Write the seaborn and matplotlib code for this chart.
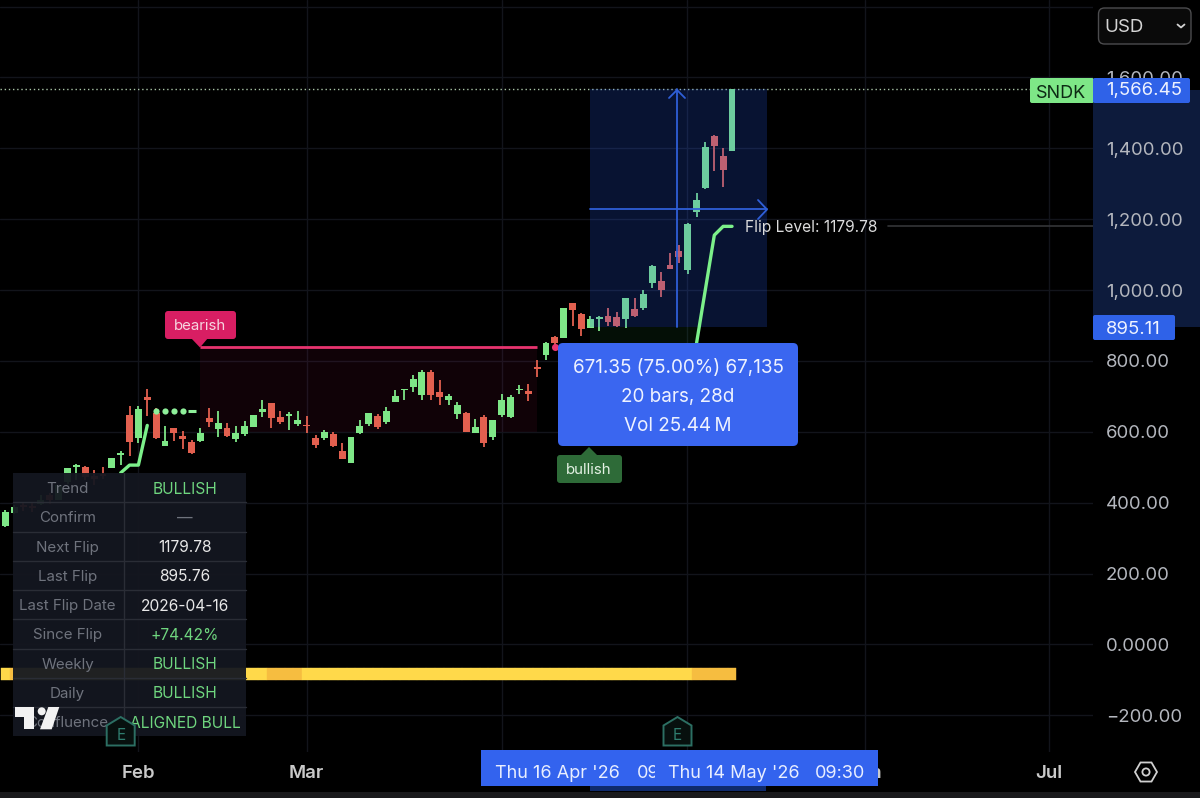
import matplotlib
matplotlib.use("Agg")
import matplotlib.pyplot as plt
from matplotlib.patches import FancyBboxPatch, Polygon, Rectangle, Circle, RegularPolygon
import pandas as pd
import seaborn as sns

# Daily SNDK candles
opens = [335, 372, 392, 391, 397, 422, 408, 459, 501, 501, 475, 481, 498, 534, 647, 582, 697, 652, 560, 610, 588,
         571, 574, 638, 607, 610, 579, 593, 613, 655, 680, 641, 644, 621, 618, 582, 582, 593, 546, 512, 596, 621,
         644, 627, 683, 717, 725, 703, 770, 711, 691, 649, 652, 596, 641, 585, 647, 641, 717, 714, 784, 817, 868,
         866, 964, 933, 894, 919, 927, 924, 919, 947, 950, 1020, 1025, 1070, 1111, 1057, 1220, 1288, 1435, 1379, 1393]
highs = [380, 394, 400, 400, 422, 428, 450, 498, 509, 503, 492, 501, 526, 546, 672, 672, 722, 666, 616, 610, 602,
         576, 610, 666, 658, 624, 616, 630, 647, 689, 680, 658, 655, 658, 644, 590, 604, 599, 568, 585, 633, 652,
         649, 669, 717, 720, 759, 773, 773, 745, 708, 683, 655, 635, 647, 633, 708, 705, 731, 736, 804, 854, 871,
         950, 964, 936, 927, 927, 950, 939, 978, 978, 1000, 1070, 1052, 1105, 1127, 1189, 1274, 1418, 1438, 1401, 1566.45]
lows = [332, 369, 377, 374, 394, 397, 408, 453, 464, 464, 450, 467, 498, 506, 532, 568, 644, 579, 560, 574, 551,
        537, 571, 613, 585, 585, 571, 588, 613, 641, 610, 621, 604, 616, 596, 554, 576, 557, 523, 512, 593, 616,
        607, 621, 683, 691, 711, 691, 691, 677, 677, 635, 599, 596, 557, 576, 641, 638, 708, 686, 756, 803, 846,
        866, 899, 871, 894, 885, 899, 896, 894, 924, 944, 1006, 981, 1060, 1077, 1046, 1206, 1285, 1336, 1291, 1393]
closes = [374, 388, 388, 386, 408, 408, 450, 498, 506, 473, 467, 475, 526, 540, 571, 663, 691, 582, 574, 596, 579,
          540, 596, 627, 624, 588, 596, 616, 647, 663, 638, 627, 649, 633, 616, 562, 599, 560, 523, 585, 616, 652,
          613, 658, 700, 720, 750, 770, 703, 697, 700, 675, 599, 613, 568, 633, 689, 697, 722, 708, 778, 851, 851,
          950, 944, 891, 919, 924, 910, 899, 978, 927, 989, 1068, 1000, 1060, 1094, 1186, 1255, 1404, 1407, 1339, 1566.45]

# Flip-level trail and its marker run
trail_a_bars = [13, 14, 15, 16]
trail_a_levels = [484, 506, 506, 618]
trail_b_bars = [78, 80, 81, 82]
trail_b_levels = [851, 1155, 1179.78, 1179.78]
dot_bars = [17, 18, 19, 20]
dot_levels = [660, 660, 660, 660]
dash_bars = [21]
dash_levels = [660]

# Levels and zones
flip_level = 1179.78
last_price = 1566.45
measure_base = 895.11
measure_cross = 1228
measure_start_bar, measure_mid_bar, measure_end_bar = 66, 76, 86
bearish_level = 838
bearish_floor = 600
bearish_start_bar, bearish_end_bar = 22, 60
bearish_dot_bar, bearish_dot_level = 62, 838
bull_floor = 851
bull_start_bar, bull_end_bar = 66, 78

# Momentum strip under the candles: 0 yellow, 1 orange
strip_bars = list(range(83))
strip_state = [0, 1] + [0] * 28 + [1] * 4 + [0] * 44 + [1] * 5
strip_low, strip_high = -100, -66

# Axis ticks; April and May sit behind the crosshair date labels
price_ticks = [-200, 0, 200, 400, 600, 800, 1000, 1200, 1400, 1600, 1800]
price_labels = ["−200.00", "0.0000", "200.00", "400.00", "600.00", "800.00", "1,000.00", "1,200.00", "1,400.00",
                "1,600.00", ""]
month_ticks = [15, 34, 56, 76.9, 97, 117.8]
month_labels = ["Feb", "Mar", "", "", "Jun", "Jul"]

# Status table
table_names = ["Trend", "Confirm", "Next Flip", "Last Flip", "Last Flip Date", "Since Flip", "Weekly", "Daily",
               "Confluence"]
table_values = ["BULLISH", "—", "1179.78", "895.76", "2026-04-16", "+74.42%", "BULLISH", "BULLISH", "ALIGNED BULL"]
table_colors = ["g", "m", "w", "w", "w", "g", "g", "g", "g"]

UP = "#7ee787"
DOWN = "#e2604f"
TRAIL = "#7cf08a"
BLUE = "#3a66f0"
GRID = "#12141b"
PINK = "#d81e63"
W, H = 1200, 798

sns.set_theme(style="dark")
plt.rcParams["font.family"] = ["Inter", "DejaVu Sans"]

fig = plt.figure(figsize=(12, 7.98), dpi=100, facecolor="black")

# Pixel-addressed layers behind and in front of the price pane
back = fig.add_axes([0, 0, 1, 1], zorder=0)
back.set_xlim(0, W)
back.set_ylim(H, 0)
back.axis("off")
back.add_patch(Rectangle((0, 0), W, H, color="black"))
back.add_patch(Rectangle((1093, 90), 107, 237, color="#0d1b3c", lw=0))
back.add_patch(Rectangle((0, 792), W, 6, color="#1a1a1c", lw=0))
back.add_patch(Rectangle((590, 785), 176, 6, color="#0f2a6b", lw=0))

ax = fig.add_axes([0, (H - 752) / H, 1093 / W, 752 / H], zorder=1)
ax.set_facecolor("none")
ax.set_xlim(-0.62, 122.74)
ax.set_ylim(-303.7, 1818.6)
ax.set_axisbelow(True)
for spine in ax.spines.values():
    spine.set_visible(False)
ax.grid(True, color=GRID, lw=1)
ax.yaxis.tick_right()
ax.set_yticks(price_ticks, price_labels)
ax.set_xticks(month_ticks, month_labels)
ax.tick_params(axis="y", length=0, pad=9.2, labelsize=13.4, labelcolor="#b4b7be", right=False, left=False)
ax.tick_params(axis="x", length=0, pad=9.5, labelsize=13.4, labelcolor="#c9c9c9")
for label_artist in ax.get_xticklabels():
    label_artist.set_fontweight("semibold")

# Zones under the candles
ax.fill_between([bearish_start_bar, bearish_end_bar], bearish_floor, bearish_level, color=PINK, alpha=0.075, lw=0, zorder=1)
ax.fill_between([bull_start_bar, bull_end_bar], bull_floor, measure_base, color="#1f7a33", alpha=0.13, lw=0, zorder=1)
ax.plot([bearish_start_bar, bearish_end_bar], [bearish_level] * 2, color="#e8346f", lw=2, zorder=2, solid_capstyle="butt")
ax.axhline(last_price, color="#a9c4a6", lw=1, ls=(0, (1, 2)), zorder=2)
ax.plot([99.6, 122.74], [flip_level] * 2, color="#343538", lw=1.2, zorder=2)

# Candles
frame = pd.DataFrame({"bar": range(len(opens)), "open": opens, "high": highs, "low": lows, "close": closes})
frame["rising"] = frame["close"] >= frame["open"]
frame["color"] = frame["rising"].map({True: UP, False: DOWN})
ax.vlines(frame["bar"], frame["low"], frame["high"], colors=frame["color"], lw=1.3, zorder=3)
ax.bar(frame["bar"], (frame["close"] - frame["open"]).abs(), bottom=frame[["open", "close"]].min(axis=1), width=0.78,
       color=frame["color"], lw=0, zorder=3)

# Flip trail and pending markers
for bars, levels in ((trail_a_bars, trail_a_levels), (trail_b_bars, trail_b_levels)):
    sns.lineplot(x=bars, y=levels, ax=ax, color=TRAIL, lw=2.4, sort=False, estimator=None, zorder=6)
sns.scatterplot(x=dot_bars, y=dot_levels, ax=ax, color="#8ef09a", s=20, lw=0, zorder=4)
sns.scatterplot(x=dash_bars, y=dash_levels, ax=ax, color="#8ef09a", marker="_", s=30, linewidth=2.2, zorder=4)
ax.scatter([bearish_dot_bar], [bearish_dot_level], color="#e8346f", s=26, lw=0, zorder=4)

# Momentum strip
strip_colors = ["#f6bd40" if state else "#ffd94a" for state in strip_state]
ax.bar(strip_bars, strip_high - strip_low, bottom=strip_low, width=1.0, color=strip_colors, edgecolor=strip_colors,
       lw=0.3, zorder=2)

# Measuring tool
ax.fill_between([measure_start_bar, measure_end_bar], measure_base, last_price, color="#2962ff", alpha=0.2, lw=0, zorder=5)
ax.plot([measure_mid_bar - 0.25] * 2, [measure_base, last_price], color="#2f5fd8", lw=1.3, zorder=6)
ax.plot([measure_start_bar, measure_end_bar], [measure_cross] * 2, color="#2f5fd8", lw=1.3, zorder=6)

ax.set_xlabel("")
ax.set_ylabel("")
if ax.get_legend():
    ax.get_legend().remove()

# Annotations placed in pixels
ov = fig.add_axes([0, 0, 1, 1], zorder=2)
ov.set_xlim(0, W)
ov.set_ylim(H, 0)
ov.axis("off")
ov.set_facecolor("none")


def box(x0, y0, x1, y1, color, radius=3, zorder=3, edge="none", lw=0):
    ov.add_patch(FancyBboxPatch((x0, y0), x1 - x0, y1 - y0, boxstyle=f"round,pad=0,rounding_size={radius}",
                                fc=color, ec=edge, lw=lw, zorder=zorder))


def label(x, y, text, color="white", size=12, ha="center", weight="normal", zorder=6):
    return ov.text(x, y, text, color=color, fontsize=size, ha=ha, va="center_baseline", fontweight=weight, zorder=zorder)


# Arrow heads on the measuring tool
ov.plot([669, 677, 685], [98, 90, 98], color="#2f5fd8", lw=1.3, zorder=2)
ov.plot([758, 767, 758], [200, 209.5, 219], color="#2f5fd8", lw=1.3, zorder=2)

label(745, 226, "Flip Level: 1179.78", "#dcdcdc", 11.2, ha="left")

# Bearish tag
box(165, 311, 236, 339, PINK)
ov.add_patch(Polygon([(191, 338), (208, 338), (200, 347.5)], color=PINK, lw=0, zorder=3))
label(200, 325, "bearish", "#f6d5e0", 10.8)

# Measurement tooltip
box(558, 343, 798, 446, BLUE, radius=5, zorder=4)
label(678, 366, "671.35 (75.00%) 67,135", "#eef2ff", 13.6)
label(678, 395, "20 bars, 28d", "#eef2ff", 13.6)
label(678, 424, "Vol 25.44\u2009M", "#eef2ff", 13.6)

# Bullish tag
box(557, 455, 622, 483, "#2e6b38", zorder=3)
ov.add_patch(Polygon([(580, 456), (598, 456), (589, 447)], color="#2e6b38", lw=0, zorder=3))
label(589, 469, "bullish", "#e3f1e3", 10.8)

# Status table
table_left, table_right, table_split, table_top, row_h = 12.5, 245.5, 123.5, 473, 29.25
ov.add_patch(Rectangle((table_left, table_top), table_right - table_left, row_h * 9, color="#141720", alpha=0.95, lw=0,
                       zorder=3))
for row in range(1, 9):
    ov.plot([table_left, table_right], [table_top + row * row_h] * 2, color="#2a2d36", lw=1, zorder=4)
ov.plot([table_split] * 2, [table_top, table_top + row_h * 9], color="#2a2d36", lw=1, zorder=4)
value_palette = {"g": "#6fd67f", "w": "#e8e8e8", "m": "#6f737d"}
for row, (name, value, tone) in enumerate(zip(table_names, table_values, table_colors)):
    y = table_top + (row + 0.5) * row_h
    label(67.5, y, name, "#6f737d", 10.9, zorder=5)
    label(185, y, value, value_palette[tone], 11.2, zorder=5)

# Logo mark
ov.add_patch(Polygon([(15, 707), (34.3, 707), (34.3, 729.3), (24, 729.3), (24, 717.3), (15, 717.3)], color="#f2f2f2", lw=0, zorder=7))
ov.add_patch(Circle((41.7, 711.3), 4, color="#f2f2f2", lw=0, zorder=7))
ov.add_patch(Polygon([(59.3, 707), (48.3, 707), (40, 729.3), (51.7, 729.3)], color="#f2f2f2", lw=0, zorder=7))

# Earnings markers
for cx, half in ((120.7, 14), (677.5, 14)):
    ov.add_patch(Polygon([(cx, 717), (cx + half, 725.5), (cx + half, 745.5), (cx - half, 745.5), (cx - half, 725.5)],
                         closed=True, fc="#07100e", ec="#2c6f63", lw=1.4, zorder=7))
    label(cx, 734, "E", "#2f7d6e", 11, zorder=8)

# Crosshair date labels
ov.add_patch(Rectangle((481, 750), 397, 36, color="#3363ee", lw=0, zorder=3))
label(495, 771, "Thu 16 Apr '26", "#e8eeff", 13, ha="left", zorder=4)
ov.add_patch(Rectangle((655, 750), 223, 36, color="#3363ee", lw=0, zorder=5))
label(668, 771, "Thu 14 May '26", "#e8eeff", 13, ha="left")
label(815, 771, "09:30", "#e8eeff", 13, ha="left")
label(637, 771, "09", "#e8eeff", 13, ha="left", zorder=4)

# Price-scale labels
box(1030, 78, 1094, 103, UP, radius=2, zorder=4)
label(1061, 91, "SNDK", "#0d2a14", 13)
box(1093, 78, 1190, 103, "#2f62e8", radius=2, zorder=4)
label(1182, 89, "1,566.45", "#eef2ff", 13.4, ha="right")
box(1093, 315, 1175, 340, "#2f62e8", radius=2, zorder=4)
label(1106, 327.5, "895.11", "#eef2ff", 13.4, ha="left")

# Currency selector
box(1098.5, 8, 1191, 44, "#0a0a0a", radius=6, zorder=3, edge="#4c4c4e", lw=1)
label(1104, 26, "USD", "#d4d4d4", 13.5, ha="left")
ov.plot([1177.5, 1181, 1184.5], [24.5, 27.5, 24.5], color="#d4d4d4", lw=1.3, zorder=6)

# Settings button
ov.add_patch(RegularPolygon((1146, 772), 6, radius=11, orientation=0.5236, fc="none", ec="#d0d0d0", lw=1.3, zorder=6))
ov.add_patch(Circle((1146, 772), 3.6, fc="none", ec="#d0d0d0", lw=1.3, zorder=6))

fig.savefig("out.png", dpi=100, facecolor="black")
